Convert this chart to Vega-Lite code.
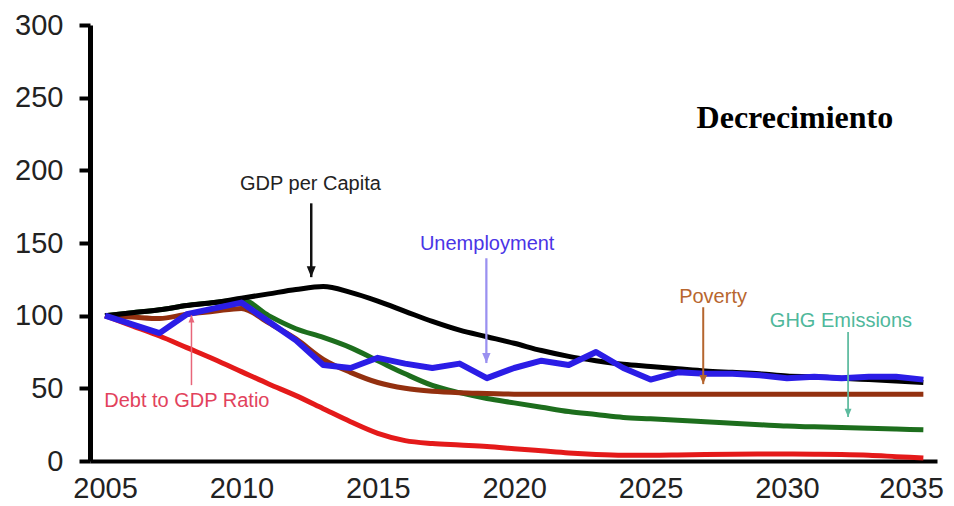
{
  "$schema": "https://vega.github.io/schema/vega-lite/v6.json",
  "width": 847,
  "height": 436,
  "autosize": "none",
  "padding": {"left": 90, "top": 25, "right": 17, "bottom": 45},
  "background": "white",
  "config": {"view": {"stroke": null}},
  "datasets": {
    "series": [
      {"year": 2005, "series": "Debt to GDP Ratio", "value": 100},
      {"year": 2006, "series": "Debt to GDP Ratio", "value": 93},
      {"year": 2007, "series": "Debt to GDP Ratio", "value": 86},
      {"year": 2008, "series": "Debt to GDP Ratio", "value": 78},
      {"year": 2009, "series": "Debt to GDP Ratio", "value": 70},
      {"year": 2010, "series": "Debt to GDP Ratio", "value": 61.5},
      {"year": 2011, "series": "Debt to GDP Ratio", "value": 53},
      {"year": 2012, "series": "Debt to GDP Ratio", "value": 45},
      {"year": 2013, "series": "Debt to GDP Ratio", "value": 36},
      {"year": 2014, "series": "Debt to GDP Ratio", "value": 27},
      {"year": 2015, "series": "Debt to GDP Ratio", "value": 19},
      {"year": 2016, "series": "Debt to GDP Ratio", "value": 14},
      {"year": 2017, "series": "Debt to GDP Ratio", "value": 12},
      {"year": 2018, "series": "Debt to GDP Ratio", "value": 11},
      {"year": 2019, "series": "Debt to GDP Ratio", "value": 10},
      {"year": 2020, "series": "Debt to GDP Ratio", "value": 8.5},
      {"year": 2021, "series": "Debt to GDP Ratio", "value": 7},
      {"year": 2022, "series": "Debt to GDP Ratio", "value": 5.5},
      {"year": 2023, "series": "Debt to GDP Ratio", "value": 4.5},
      {"year": 2024, "series": "Debt to GDP Ratio", "value": 4},
      {"year": 2025, "series": "Debt to GDP Ratio", "value": 4},
      {"year": 2026, "series": "Debt to GDP Ratio", "value": 4.2},
      {"year": 2027, "series": "Debt to GDP Ratio", "value": 4.5},
      {"year": 2028, "series": "Debt to GDP Ratio", "value": 4.7},
      {"year": 2029, "series": "Debt to GDP Ratio", "value": 4.8},
      {"year": 2030, "series": "Debt to GDP Ratio", "value": 4.8},
      {"year": 2031, "series": "Debt to GDP Ratio", "value": 4.7},
      {"year": 2032, "series": "Debt to GDP Ratio", "value": 4.5},
      {"year": 2033, "series": "Debt to GDP Ratio", "value": 4},
      {"year": 2034, "series": "Debt to GDP Ratio", "value": 3},
      {"year": 2035, "series": "Debt to GDP Ratio", "value": 2},
      {"year": 2005, "series": "GHG Emissions", "value": 100},
      {"year": 2006, "series": "GHG Emissions", "value": 102},
      {"year": 2007, "series": "GHG Emissions", "value": 104},
      {"year": 2008, "series": "GHG Emissions", "value": 107},
      {"year": 2009, "series": "GHG Emissions", "value": 109},
      {"year": 2010, "series": "GHG Emissions", "value": 111},
      {"year": 2011, "series": "GHG Emissions", "value": 100},
      {"year": 2012, "series": "GHG Emissions", "value": 91},
      {"year": 2013, "series": "GHG Emissions", "value": 85},
      {"year": 2014, "series": "GHG Emissions", "value": 78},
      {"year": 2015, "series": "GHG Emissions", "value": 69},
      {"year": 2016, "series": "GHG Emissions", "value": 60},
      {"year": 2017, "series": "GHG Emissions", "value": 52},
      {"year": 2018, "series": "GHG Emissions", "value": 47},
      {"year": 2019, "series": "GHG Emissions", "value": 43},
      {"year": 2020, "series": "GHG Emissions", "value": 40},
      {"year": 2021, "series": "GHG Emissions", "value": 37},
      {"year": 2022, "series": "GHG Emissions", "value": 34},
      {"year": 2023, "series": "GHG Emissions", "value": 32},
      {"year": 2024, "series": "GHG Emissions", "value": 30},
      {"year": 2025, "series": "GHG Emissions", "value": 29},
      {"year": 2026, "series": "GHG Emissions", "value": 28},
      {"year": 2027, "series": "GHG Emissions", "value": 27},
      {"year": 2028, "series": "GHG Emissions", "value": 26},
      {"year": 2029, "series": "GHG Emissions", "value": 25},
      {"year": 2030, "series": "GHG Emissions", "value": 24},
      {"year": 2031, "series": "GHG Emissions", "value": 23.5},
      {"year": 2032, "series": "GHG Emissions", "value": 23},
      {"year": 2033, "series": "GHG Emissions", "value": 22.5},
      {"year": 2034, "series": "GHG Emissions", "value": 22},
      {"year": 2035, "series": "GHG Emissions", "value": 21.5},
      {"year": 2005, "series": "Poverty", "value": 100},
      {"year": 2006, "series": "Poverty", "value": 99},
      {"year": 2007, "series": "Poverty", "value": 98},
      {"year": 2008, "series": "Poverty", "value": 101},
      {"year": 2009, "series": "Poverty", "value": 103},
      {"year": 2010, "series": "Poverty", "value": 105},
      {"year": 2011, "series": "Poverty", "value": 95},
      {"year": 2012, "series": "Poverty", "value": 84},
      {"year": 2013, "series": "Poverty", "value": 70},
      {"year": 2014, "series": "Poverty", "value": 61},
      {"year": 2015, "series": "Poverty", "value": 54},
      {"year": 2016, "series": "Poverty", "value": 50},
      {"year": 2017, "series": "Poverty", "value": 48},
      {"year": 2018, "series": "Poverty", "value": 47},
      {"year": 2019, "series": "Poverty", "value": 46.5},
      {"year": 2020, "series": "Poverty", "value": 46},
      {"year": 2025, "series": "Poverty", "value": 46},
      {"year": 2030, "series": "Poverty", "value": 46},
      {"year": 2035, "series": "Poverty", "value": 46},
      {"year": 2005, "series": "GDP per Capita", "value": 100},
      {"year": 2006, "series": "GDP per Capita", "value": 102},
      {"year": 2007, "series": "GDP per Capita", "value": 104},
      {"year": 2008, "series": "GDP per Capita", "value": 107},
      {"year": 2009, "series": "GDP per Capita", "value": 109},
      {"year": 2010, "series": "GDP per Capita", "value": 112},
      {"year": 2011, "series": "GDP per Capita", "value": 115},
      {"year": 2012, "series": "GDP per Capita", "value": 118},
      {"year": 2013, "series": "GDP per Capita", "value": 120},
      {"year": 2014, "series": "GDP per Capita", "value": 116},
      {"year": 2015, "series": "GDP per Capita", "value": 110},
      {"year": 2016, "series": "GDP per Capita", "value": 103},
      {"year": 2017, "series": "GDP per Capita", "value": 96},
      {"year": 2018, "series": "GDP per Capita", "value": 90},
      {"year": 2019, "series": "GDP per Capita", "value": 85.5},
      {"year": 2020, "series": "GDP per Capita", "value": 81},
      {"year": 2021, "series": "GDP per Capita", "value": 76},
      {"year": 2022, "series": "GDP per Capita", "value": 72},
      {"year": 2023, "series": "GDP per Capita", "value": 69},
      {"year": 2024, "series": "GDP per Capita", "value": 66.5},
      {"year": 2025, "series": "GDP per Capita", "value": 65},
      {"year": 2026, "series": "GDP per Capita", "value": 63.5},
      {"year": 2027, "series": "GDP per Capita", "value": 62},
      {"year": 2028, "series": "GDP per Capita", "value": 61},
      {"year": 2029, "series": "GDP per Capita", "value": 60},
      {"year": 2030, "series": "GDP per Capita", "value": 58.5},
      {"year": 2031, "series": "GDP per Capita", "value": 58},
      {"year": 2032, "series": "GDP per Capita", "value": 57},
      {"year": 2033, "series": "GDP per Capita", "value": 56},
      {"year": 2034, "series": "GDP per Capita", "value": 55},
      {"year": 2035, "series": "GDP per Capita", "value": 54},
      {"year": 2005, "series": "Unemployment", "value": 100},
      {"year": 2006, "series": "Unemployment", "value": 94},
      {"year": 2007, "series": "Unemployment", "value": 88},
      {"year": 2008, "series": "Unemployment", "value": 101},
      {"year": 2009, "series": "Unemployment", "value": 105},
      {"year": 2010, "series": "Unemployment", "value": 109},
      {"year": 2011, "series": "Unemployment", "value": 96},
      {"year": 2012, "series": "Unemployment", "value": 83},
      {"year": 2013, "series": "Unemployment", "value": 66},
      {"year": 2014, "series": "Unemployment", "value": 64},
      {"year": 2015, "series": "Unemployment", "value": 71},
      {"year": 2016, "series": "Unemployment", "value": 67},
      {"year": 2017, "series": "Unemployment", "value": 64},
      {"year": 2018, "series": "Unemployment", "value": 67},
      {"year": 2019, "series": "Unemployment", "value": 57},
      {"year": 2020, "series": "Unemployment", "value": 64},
      {"year": 2021, "series": "Unemployment", "value": 69},
      {"year": 2022, "series": "Unemployment", "value": 66},
      {"year": 2023, "series": "Unemployment", "value": 75},
      {"year": 2024, "series": "Unemployment", "value": 64},
      {"year": 2025, "series": "Unemployment", "value": 56},
      {"year": 2026, "series": "Unemployment", "value": 61},
      {"year": 2027, "series": "Unemployment", "value": 60},
      {"year": 2028, "series": "Unemployment", "value": 60},
      {"year": 2029, "series": "Unemployment", "value": 59},
      {"year": 2030, "series": "Unemployment", "value": 57},
      {"year": 2031, "series": "Unemployment", "value": 58},
      {"year": 2032, "series": "Unemployment", "value": 57},
      {"year": 2033, "series": "Unemployment", "value": 58},
      {"year": 2034, "series": "Unemployment", "value": 58},
      {"year": 2035, "series": "Unemployment", "value": 56}
    ],
    "notes": [
      {"label": "GDP per Capita", "tx": 2012.53, "ty": 186.3, "ax": 2012.56, "tail": 177.3, "tip": 126.5, "dir": "down"},
      {"label": "Unemployment", "tx": 2019.01, "ty": 145, "ax": 2018.98, "tail": 139.5, "tip": 67.4, "dir": "down"},
      {"label": "Poverty", "tx": 2027.29, "ty": 108.6, "ax": 2026.93, "tail": 105.8, "tip": 52.9, "dir": "down"},
      {"label": "GHG Emissions", "tx": 2031.98, "ty": 92.1, "ax": 2032.24, "tail": 88.7, "tip": 30.2, "dir": "down"},
      {"label": "Debt to GDP Ratio", "tx": 2008.0, "ty": 37.1, "ax": 2008.17, "tail": 52.2, "tip": 100.3, "dir": "up"}
    ]
  },
  "encoding": {
    "x": {
      "field": "year",
      "type": "quantitative",
      "scale": {"domain": [2004.45, 2035.5], "nice": false, "zero": false},
      "axis": {
        "values": [2005, 2010, 2015, 2020, 2025, 2030, 2035],
        "format": "d",
        "title": null,
        "grid": false,
        "ticks": false,
        "tickSize": 0,
        "domainColor": "#000000",
        "domainWidth": 4,
        "labelFont": "Liberation Sans",
        "labelFontSize": 29,
        "labelColor": "#222222",
        "labelPadding": 13,
        "labelFlush": 14,
        "labelFlushOffset": 20
      }
    },
    "y": {
      "field": "value",
      "type": "quantitative",
      "scale": {"domain": [0, 300], "nice": false},
      "axis": {
        "values": [0, 50, 100, 150, 200, 250, 300],
        "title": null,
        "grid": false,
        "domainColor": "#000000",
        "domainWidth": 5,
        "tickColor": "#000000",
        "tickWidth": 4,
        "tickSize": 11,
        "labelFont": "Liberation Sans",
        "labelFontSize": 29,
        "labelColor": "#222222",
        "labelPadding": 16
      }
    }
  },
  "layer": [
    {
      "data": {"name": "series"},
      "transform": [{"filter": "datum.series !== 'Unemployment'"}],
      "mark": {"type": "line", "strokeWidth": 5, "strokeJoin": "round", "interpolate": "monotone"},
      "encoding": {
        "color": {
          "field": "series",
          "type": "nominal",
          "scale": {
            "domain": ["Debt to GDP Ratio", "GHG Emissions", "Poverty", "GDP per Capita"],
            "range": ["#e41a1a", "#1d6e1d", "#93300f", "#000000"]
          },
          "legend": null
        }
      }
    },
    {
      "data": {"name": "series"},
      "transform": [{"filter": "datum.series === 'Unemployment'"}],
      "mark": {"type": "line", "strokeWidth": 6, "strokeJoin": "round", "color": "#2b1de6"},
      "encoding": {}
    },
    {
      "data": {"name": "notes"},
      "mark": {"type": "rule"},
      "encoding": {
        "x": {"field": "ax", "type": "quantitative"},
        "y": {"field": "tail", "type": "quantitative"},
        "y2": {"field": "tip"},
        "color": {
          "field": "label",
          "type": "nominal",
          "scale": {
            "domain": ["GDP per Capita", "Unemployment", "Poverty", "GHG Emissions", "Debt to GDP Ratio"],
            "range": ["#111111", "#9a90f0", "#b5652e", "#5dbb9f", "#e8667a"]
          },
          "legend": null
        },
        "strokeWidth": {
          "field": "label",
          "type": "nominal",
          "scale": {
            "domain": ["GDP per Capita", "Unemployment", "Poverty", "GHG Emissions", "Debt to GDP Ratio"],
            "range": [2.5, 1.5, 1.8, 1.5, 1.8]
          },
          "legend": null
        }
      }
    },
    {
      "data": {"name": "notes"},
      "mark": {"type": "point", "filled": true, "opacity": 1, "strokeWidth": 0},
      "encoding": {
        "x": {"field": "ax", "type": "quantitative"},
        "y": {"field": "tip", "type": "quantitative"},
        "color": {
          "field": "label",
          "type": "nominal",
          "scale": {
            "domain": ["GDP per Capita", "Unemployment", "Poverty", "GHG Emissions", "Debt to GDP Ratio"],
            "range": ["#111111", "#9a90f0", "#b5652e", "#5dbb9f", "#e8667a"]
          },
          "legend": null
        },
        "shape": {
          "field": "dir",
          "type": "nominal",
          "scale": {"domain": ["down", "up"], "range": ["M-1,-2.4L1,-2.4L0,0Z", "M-1,2.4L1,2.4L0,0Z"]},
          "legend": null
        },
        "size": {
          "field": "label",
          "type": "nominal",
          "scale": {
            "domain": ["GDP per Capita", "Unemployment", "Poverty", "GHG Emissions", "Debt to GDP Ratio"],
            "range": [81, 36, 36, 36, 36]
          },
          "legend": null
        }
      }
    },
    {
      "data": {"name": "notes"},
      "mark": {"type": "text", "font": "Liberation Sans", "fontSize": 20, "align": "center", "baseline": "alphabetic"},
      "encoding": {
        "x": {"field": "tx", "type": "quantitative"},
        "y": {"field": "ty", "type": "quantitative"},
        "text": {"field": "label"},
        "color": {
          "field": "label",
          "type": "nominal",
          "scale": {
            "domain": ["GDP per Capita", "Unemployment", "Poverty", "GHG Emissions", "Debt to GDP Ratio"],
            "range": ["#222222", "#4a34e6", "#b8662e", "#4fb89b", "#e2425c"]
          },
          "legend": null
        }
      }
    },
    {
      "data": {"values": [{"title": "Decrecimiento", "tx": 2030.29, "ty": 228.9}]},
      "mark": {"type": "text", "font": "Liberation Serif", "fontWeight": "bold", "fontSize": 32, "align": "center", "baseline": "alphabetic", "color": "#000000"},
      "encoding": {
        "x": {"field": "tx", "type": "quantitative"},
        "y": {"field": "ty", "type": "quantitative"},
        "text": {"field": "title"}
      }
    }
  ],
  "resolve": {"scale": {"color": "independent"}}
}
